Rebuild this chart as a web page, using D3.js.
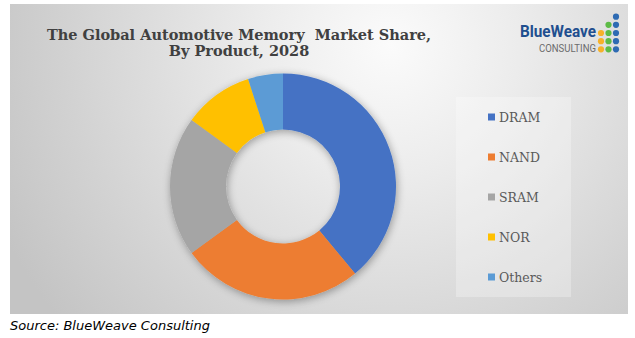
<!DOCTYPE html>
<html>
<head>
<meta charset="utf-8">
<script src="https://cdn.jsdelivr.net/npm/d3@7"></script>
<style>
  html, body { margin: 0; padding: 0; background: #ffffff; }
  svg { display: block; }
</style>
</head>
<body>
<svg id="chart" width="635" height="338"></svg>
<script>
// Market share by product, 2028 (%)
const categories = ["DRAM", "NAND", "SRAM", "NOR", "Others"];
const shares = [39, 26, 20, 10, 5];
const colors = ["#4472c4", "#ed7d31", "#a5a5a5", "#ffc000", "#5b9bd5"];

const titleLines = ["The Global Automotive Memory\u00a0 Market Share,", "By Product, 2028"];
const sourceText = "Source: BlueWeave Consulting";

const svg = d3.select("#chart");
const defs = svg.append("defs");

// Panel background: soft radial grey gradient
const bg = defs.append("radialGradient")
  .attr("id", "bgGrad")
  .attr("gradientUnits", "userSpaceOnUse")
  .attr("cx", 390).attr("cy", 45).attr("r", 430);
bg.append("stop").attr("offset", 0).attr("stop-color", "#fbfbfb");
bg.append("stop").attr("offset", 0.3).attr("stop-color", "#ececec");
bg.append("stop").attr("offset", 0.75).attr("stop-color", "#d2d2d2");
bg.append("stop").attr("offset", 1).attr("stop-color", "#c4c4c4");

// Drop shadow for the donut
const shadow = defs.append("filter").attr("id", "shadow")
  .attr("x", "-20%").attr("y", "-20%").attr("width", "140%").attr("height", "140%");
shadow.append("feGaussianBlur").attr("in", "SourceAlpha").attr("stdDeviation", 4).attr("result", "blur");
shadow.append("feOffset").attr("in", "blur").attr("dx", 1).attr("dy", 2).attr("result", "off");
shadow.append("feComponentTransfer").attr("in", "off").attr("result", "soft")
  .append("feFuncA").attr("type", "linear").attr("slope", 0.35);
const merge = shadow.append("feMerge");
merge.append("feMergeNode").attr("in", "soft");
merge.append("feMergeNode").attr("in", "SourceGraphic");

svg.append("rect")
  .attr("x", 10).attr("y", 4).attr("width", 618).attr("height", 310)
  .attr("fill", "url(#bgGrad)");

// Title
const title = svg.append("text")
  .attr("text-anchor", "middle")
  .attr("font-family", "'DejaVu Serif', serif")
  .attr("font-weight", "bold")
  .attr("font-size", 14.5)
  .attr("fill", "#404040");
titleLines.forEach((t, i) => {
  title.append("tspan").attr("x", 239).attr("y", 40 + i * 16).text(t);
});

// Logo
const logo = svg.append("g");
logo.append("text")
  .attr("x", 520).attr("y", 37)
  .attr("font-family", "Roboto, 'DejaVu Sans', sans-serif")
  .attr("font-weight", "bold")
  .attr("font-size", 16)
  .attr("textLength", 76).attr("lengthAdjust", "spacingAndGlyphs")
  .attr("fill", "#1f4f8f")
  .text("BlueWeave");
logo.append("text")
  .attr("x", 539).attr("y", 52)
  .attr("font-family", "Roboto, 'DejaVu Sans', sans-serif")
  .attr("font-size", 10.5)
  .attr("textLength", 57).attr("lengthAdjust", "spacingAndGlyphs")
  .attr("fill", "#6b6b6b")
  .text("CONSULTING");
const dotCols = [
  { x: 601, rows: [2, 3, 4], color: "#f6b12a" },
  { x: 608.5, rows: [1, 2, 3, 4], color: "#5dbb46" },
  { x: 616, rows: [0, 1, 2, 3, 4], color: "#2e6bb3" }
];
dotCols.forEach(c => {
  logo.selectAll(null).data(c.rows).enter().append("circle")
    .attr("cx", c.x).attr("cy", r => 16.7 + r * 8.15)
    .attr("r", 3.1).attr("fill", c.color);
});

// Donut
const cx = 283, cy = 186.5, outerR = 113, innerR = 57;
const pie = d3.pie().sort(null).value(d => d)
  .startAngle(0).endAngle(2 * Math.PI);
const arc = d3.arc().innerRadius(innerR).outerRadius(outerR);

const donut = svg.append("g")
  .attr("transform", `translate(${cx},${cy})`)
  .attr("filter", "url(#shadow)");
donut.selectAll("path")
  .data(pie(shares))
  .enter().append("path")
  .attr("d", arc)
  .attr("fill", (d, i) => colors[i])
  .attr("stroke", "none");

// Legend
const legend = svg.append("g");
legend.append("rect")
  .attr("x", 456).attr("y", 97).attr("width", 115).attr("height", 200)
  .attr("fill", "#ffffff").attr("fill-opacity", 0.28);

const legendY = d3.scalePoint().domain(categories).range([117, 277]);
const items = legend.selectAll("g.item")
  .data(categories).enter().append("g")
  .attr("class", "item")
  .attr("transform", d => `translate(488,${legendY(d)})`);
items.append("rect")
  .attr("x", 0).attr("y", -3.5).attr("width", 7).attr("height", 7)
  .attr("fill", (d, i) => colors[i]);
items.append("text")
  .attr("x", 11).attr("y", 4.5)
  .attr("font-family", "'DejaVu Serif', serif")
  .attr("font-size", 12.5)
  .attr("fill", "#595959")
  .text(d => d);

// Source note
svg.append("text")
  .attr("x", 10).attr("y", 330)
  .attr("font-family", "'DejaVu Sans', Verdana, sans-serif")
  .attr("font-style", "italic")
  .attr("font-size", 13)
  .attr("fill", "#000000")
  .text(sourceText);
</script>
</body>
</html>
